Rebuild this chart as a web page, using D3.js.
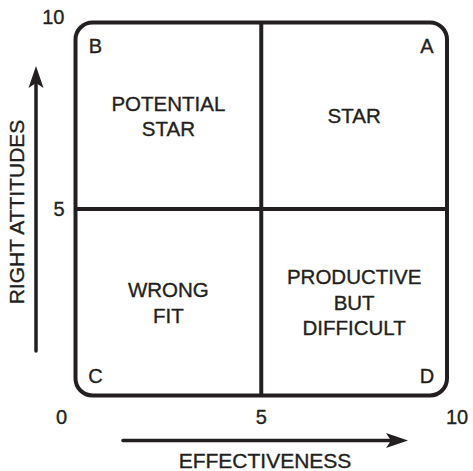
<!DOCTYPE html>
<html>
<head>
<meta charset="utf-8">
<script src="https://cdn.jsdelivr.net/npm/d3@7/dist/d3.min.js"></script>
<style>
  html, body { margin: 0; padding: 0; background: #fff; }
  svg { display: block; }
  text { font-family: "Liberation Sans", Arial, Helvetica, sans-serif; fill: #231f20; stroke: #231f20; stroke-width: 0.35px; }
</style>
</head>
<body>
<svg id="chart" width="473" height="471"></svg>
<script>
// ---- data ----
const xTickValues = [0, 5, 10];
const xTickLabels = ["0", "5", "10"];
const yTickValues = [5, 10];
const yTickLabels = ["5", "10"];
const dividerX = [5];
const dividerY = [5];
const quadLetters = ["B", "A", "C", "D"];
const quadLetterX = [0, 10, 0, 10];
const quadLetterY = [10, 10, 0, 0];
const quadNames = [["POTENTIAL", "STAR"], ["STAR"], ["WRONG", "FIT"], ["PRODUCTIVE", "BUT", "DIFFICULT"]];
const quadCenterX = [2.5, 7.5, 2.5, 7.5];
const quadCenterY = [7.5, 7.5, 2.5, 2.5];
const xAxisTitle = "EFFECTIVENESS";
const yAxisTitle = "RIGHT ATTITUDES";

// ---- layout ----
const plotLeft = 75.5, plotRight = 447, plotTop = 22.5, plotBottom = 395.5;
const ink = "#231f20";

const svg = d3.select("#chart");
const x = d3.scaleLinear().domain([0, 10]).range([plotLeft, plotRight]);
const y = d3.scaleLinear().domain([0, 10]).range([plotBottom, plotTop]);

// rounded frame
svg.append("rect")
  .attr("x", x(0)).attr("y", y(10))
  .attr("width", x(10) - x(0)).attr("height", y(0) - y(10))
  .attr("rx", 17).attr("ry", 17)
  .attr("fill", "none").attr("stroke", ink).attr("stroke-width", 4);

// dividers
svg.selectAll("line.dx").data(dividerX).join("line")
  .attr("class", "dx")
  .attr("x1", d => x(d)).attr("x2", d => x(d))
  .attr("y1", y(10)).attr("y2", y(0))
  .attr("stroke", ink).attr("stroke-width", 4);
svg.selectAll("line.dy").data(dividerY).join("line")
  .attr("class", "dy")
  .attr("y1", d => y(d)).attr("y2", d => y(d))
  .attr("x1", x(0)).attr("x2", x(10))
  .attr("stroke", ink).attr("stroke-width", 4);

// x tick labels
const xOff = [-14, 0, 10];
svg.selectAll("text.xt").data(xTickValues).join("text")
  .attr("class", "xt")
  .attr("x", (d, i) => x(d) + xOff[i])
  .attr("y", y(0) + 28)
  .attr("text-anchor", "middle")
  .attr("font-size", 20)
  .text((d, i) => xTickLabels[i]);

// y tick labels
const yOff = [0, -6];
svg.selectAll("text.yt").data(yTickValues).join("text")
  .attr("class", "yt")
  .attr("x", x(0) - 11)
  .attr("y", (d, i) => y(d) + yOff[i])
  .attr("dy", "0.35em")
  .attr("text-anchor", "end")
  .attr("font-size", 20)
  .text((d, i) => yTickLabels[i]);

// corner letters
svg.selectAll("text.ql").data(quadLetters).join("text")
  .attr("class", "ql")
  .attr("x", (d, i) => x(quadLetterX[i]) + (quadLetterX[i] === 0 ? 20 : -20))
  .attr("y", (d, i) => quadLetterY[i] === 10 ? y(10) + 30 : y(0) - 12.5)
  .attr("text-anchor", "middle")
  .attr("font-size", 20)
  .text(d => d);

// quadrant names
const lineH = 25.5;
quadNames.forEach((lines, i) => {
  const n = lines.length;
  svg.append("text")
    .attr("x", x(quadCenterX[i]))
    .attr("y", y(quadCenterY[i]))
    .attr("text-anchor", "middle")
    .attr("font-size", 20.5)
    .selectAll("tspan").data(lines).join("tspan")
    .attr("x", x(quadCenterX[i]))
    .attr("y", (d, j) => y(quadCenterY[i]) + (j - (n - 1) / 2) * lineH + 7.5)
    .text(d => d);
});

// arrows
function arrowHead(x0, y0, dir) {
  const L = 20, hw = 7.5;
  let pts;
  if (dir === "up") pts = [[x0, y0], [x0 - hw, y0 + L + 2], [x0, y0 + L - 3], [x0 + hw, y0 + L + 2]];
  else pts = [[x0, y0], [x0 - L - 2, y0 - hw], [x0 - L + 3, y0], [x0 - L - 2, y0 + hw]];
  svg.append("path").attr("d", d3.line()(pts) + "Z").attr("fill", ink);
}
svg.append("line")
  .attr("x1", 36).attr("x2", 36).attr("y1", 351).attr("y2", 80)
  .attr("stroke", ink).attr("stroke-width", 3.5).attr("stroke-linecap", "round");
arrowHead(36, 66, "up");
svg.append("line")
  .attr("x1", 123).attr("x2", 395).attr("y1", 440.5).attr("y2", 440.5)
  .attr("stroke", ink).attr("stroke-width", 3.5).attr("stroke-linecap", "round");
arrowHead(408, 440.5, "right");

// axis titles
svg.append("text")
  .attr("x", 265).attr("y", 468)
  .attr("text-anchor", "middle")
  .attr("font-size", 21)
  .text(xAxisTitle);
svg.append("text")
  .attr("transform", "translate(24,212) rotate(-90)")
  .attr("text-anchor", "middle")
  .attr("font-size", 21)
  .text(yAxisTitle);
</script>
</body>
</html>
